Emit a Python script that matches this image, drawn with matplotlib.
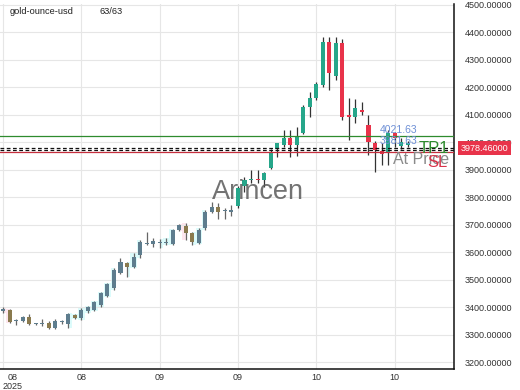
import matplotlib.pyplot as plt
from matplotlib.transforms import blended_transform_factory

plt.rcParams['font.family'] = ['Liberation Sans', 'DejaVu Sans']

# daily OHLC (63 candles)
opens = [3386, 3389, 3350, 3351, 3364, 3340, 3338, 3342, 3324, 3345,
         3338, 3371, 3360, 3386, 3389, 3407, 3440, 3469, 3524, 3560,
         3546, 3589, 3629, 3629, 3633, 3633, 3629, 3680, 3695, 3669,
         3633, 3687, 3745, 3764, 3749, 3745, 3767, 3840, 3862, 3866,
         3862, 3905, 3975, 3989, 4015, 3989, 4033, 4127, 4160, 4207,
         4364, 4240, 4360, 4098, 4091, 4116, 4062, 3996, 3968, 3960,
         4033, 3985, 3989]
highs = [3400, 3392, 3357, 3367, 3375, 3344, 3357, 3349, 3357, 3353,
         3378, 3375, 3396, 3404, 3422, 3455, 3487, 3542, 3578, 3564,
         3596, 3644, 3673, 3651, 3647, 3651, 3684, 3702, 3705, 3673,
         3687, 3753, 3782, 3778, 3760, 3771, 3840, 3873, 3898, 3898,
         3891, 3975, 3997, 4044, 4044, 4055, 4135, 4182, 4218, 4382,
         4382, 4382, 4375, 4160, 4156, 4146, 4098, 4004, 3996, 4044,
         4036, 4015, 4004]
lows = [3378, 3342, 3335, 3345, 3334, 3336, 3331, 3320, 3320, 3338,
        3324, 3357, 3353, 3378, 3386, 3400, 3436, 3462, 3520, 3509,
        3542, 3578, 3625, 3618, 3614, 3625, 3625, 3676, 3644, 3625,
        3629, 3680, 3742, 3720, 3720, 3731, 3760, 3818, 3851, 3851,
        3836, 3902, 3946, 3982, 3946, 3950, 4030, 4091, 4153, 4200,
        4189, 4225, 4080, 4007, 4069, 4098, 3953, 3891, 3916, 3916,
        3982, 3975, 3982]
closes = [3393, 3345, 3353, 3364, 3338, 3342, 3340, 3324, 3349, 3349,
          3375, 3360, 3389, 3400, 3418, 3451, 3484, 3535, 3564, 3545,
          3582, 3636, 3633, 3640, 3636, 3636, 3680, 3698, 3669, 3636,
          3680, 3745, 3764, 3745, 3753, 3753, 3833, 3862, 3866, 3862,
          3887, 3964, 3996, 4015, 3989, 4018, 4127, 4160, 4211, 4364,
          4251, 4360, 4091, 4091, 4124, 4109, 4000, 3971, 3957, 4033,
          4015, 4000, 3996]

tick_idx = [0, 12, 24, 36, 48, 60]
tick_labels = ['08\n2025', '08', '09', '09', '10', '10']

up_zones = [(10, 17), (19, 21), (24, 26), (29, 31)]
down_zones = [(0, 1), (27, 28)]

tp_level = 4021.63
entry_level = 3978.46
price_level = 3971.5
sl_level = 3965.0
first_muted = 36  # candles before this index drawn in muted tones

fig = plt.figure(figsize=(5.2, 3.9), dpi=100)
ax = fig.add_axes([0, 1 - 369 / 390, 454 / 520, 365 / 390])

n = len(opens)
xs = list(range(n))

# faint trend zones behind the candles
for a, b in up_zones:
    ax.fill_between(xs[a:b + 1], lows[a:b + 1], highs[a:b + 1], step='mid',
                    color='#dcfbfb', lw=0, zorder=0.5)
for a, b in down_zones:
    ax.fill_between(xs[a:b + 1], lows[a:b + 1], highs[a:b + 1], step='mid',
                    color='#fde6ee', lw=0, zorder=0.5)

for i in xs:
    o, h, l, c = opens[i], highs[i], lows[i], closes[i]
    if i < first_muted:
        col = '#5e7d8e' if c >= o else '#8a7a4e'
        wick = '#666666'
    else:
        col = '#26a68a' if c >= o else '#e8334a'
        wick = '#333333'
    ax.vlines(i, l, h, color=wick, lw=0.9, zorder=2)
    body = max(abs(c - o), 2.5)
    ax.bar(i, body, bottom=min(o, c), width=0.62, color=col, lw=0, zorder=3)

ax.axhline(tp_level, color='#2e8b2e', lw=0.9, zorder=4)
ax.axhline(entry_level, color='#111111', lw=0.9, ls=(0, (3, 2)), zorder=4)
ax.axhline(price_level, color='#111111', lw=0.9, ls=(0, (3, 2)), zorder=4)
ax.axhline(sl_level, color='#c62f3e', lw=0.9, zorder=4)

ax.text(57.7, 4044, f'{tp_level:.2f}', color='#6d8fd6', fontsize=7.5,
        va='center', zorder=5)
ax.text(57.7, 4003, '3981.63', color='#6d8fd6', fontsize=7.5,
        va='center', zorder=5)
ax.text(59.7, 3935, 'At Price', color='#8a8a8a', fontsize=11.5,
        va='center', zorder=5)
ax.text(63.7, 3977, 'TP1', color='#2e8b2e', fontsize=12, va='center',
        zorder=6)
ax.text(65.0, 3927, 'SL', color='#d8344a', fontsize=12, va='center',
        zorder=6)
ax.text(39, 3818, 'Arincen', color='#5a5a5a', fontsize=19.5, ha='center',
        va='center', alpha=0.85, zorder=6)

ax.set_xlim(-0.46, 69.1)
ax.set_ylim(3175, 4502)
ax.set_yticks(range(3200, 4501, 100))
ax.yaxis.tick_right()
ax.yaxis.set_major_formatter(plt.FuncFormatter(lambda v, p: f'{v:.5f}'))
ax.set_xticks(tick_idx)
ax.set_xticklabels(tick_labels, linespacing=0.95)
ax.get_xticklabels()[0].set_ha('left')
ax.get_xticklabels()[0].set_multialignment('center')
ax.tick_params(axis='both', length=0, labelsize=6.5, colors='#333333')
ax.tick_params(axis='y', pad=8)
ax.tick_params(axis='x', pad=3)
ax.grid(True, color='#e6e6e6', lw=0.8, zorder=0)
ax.set_axisbelow(True)
for s in ['top', 'left']:
    ax.spines[s].set_visible(False)
for s in ['right', 'bottom']:
    ax.spines[s].set_color('#111111')
    ax.spines[s].set_linewidth(1.1)

trans = blended_transform_factory(ax.transAxes, ax.transData)
ax.text(1 + 7 / 454, entry_level, f'{entry_level:.5f}', transform=trans,
        color='white', fontsize=6.5, va='center', ha='left', clip_on=False,
        zorder=10, bbox=dict(boxstyle='square,pad=0.3', fc='#e8334a',
                             ec='none'))

fig.text(10 / 520, 1 - 12 / 390, 'gold-ounce-usd', fontsize=6.7,
         color='#222222', va='center')
fig.text(100 / 520, 1 - 12 / 390, '63/63', fontsize=6.7, color='#222222',
         va='center')

fig.savefig('out.png', dpi=100)
